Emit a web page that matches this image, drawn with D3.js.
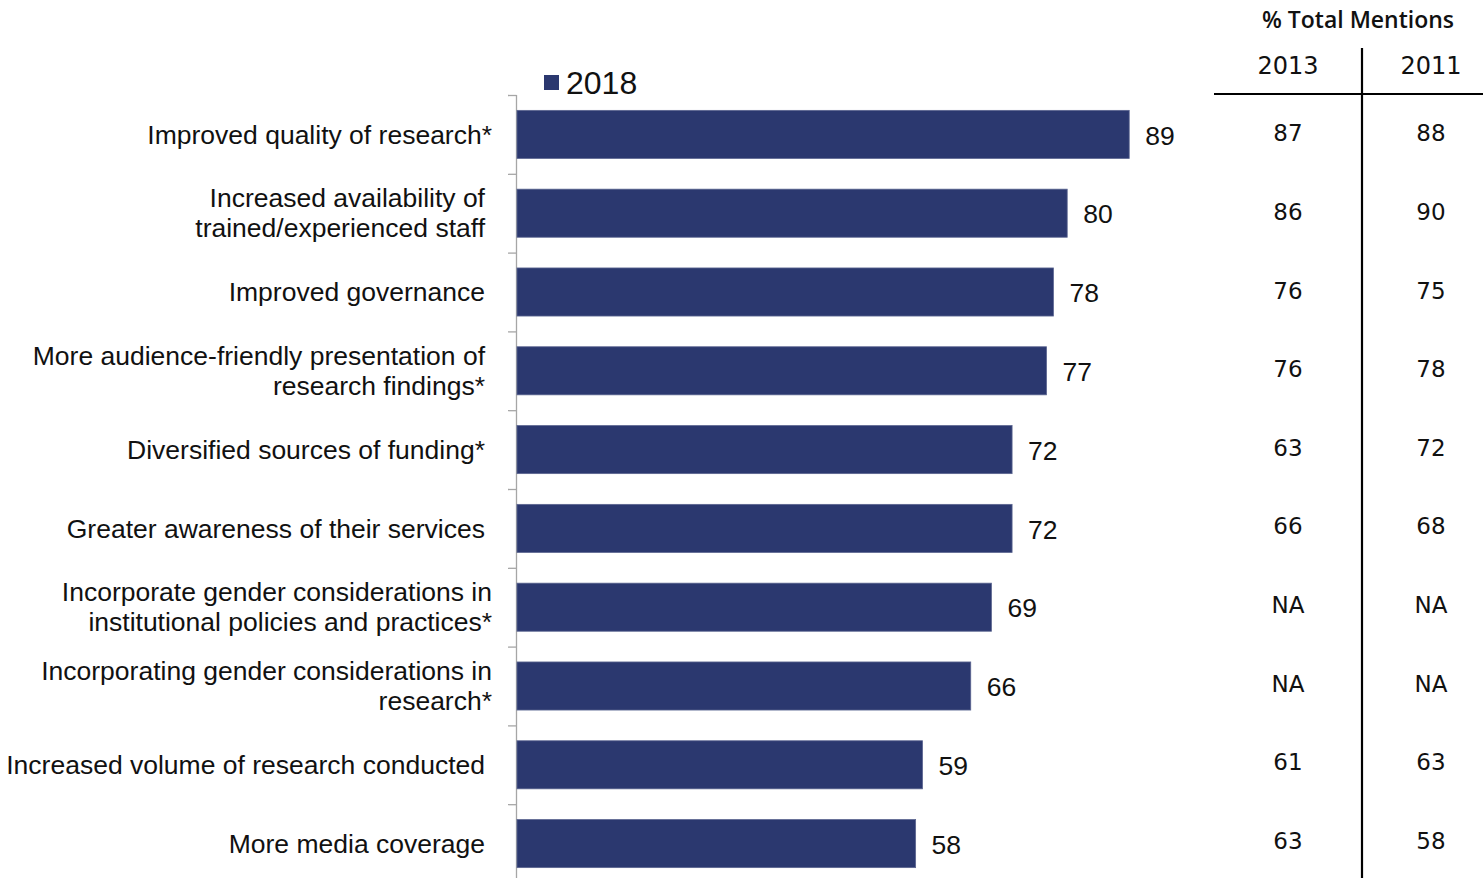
<!DOCTYPE html>
<html>
<head>
<meta charset="utf-8">
<script src="https://cdn.jsdelivr.net/npm/d3@7"></script>
<style>
  html, body { margin: 0; padding: 0; background: #fff; }
  svg { display: block; }
</style>
</head>
<body>
<svg id="chart" width="1483" height="878"></svg>
<script>
// Outcome categories (each entry is a list of label lines)
const categories = [
  ["Improved quality of research*"],
  ["Increased availability of", "trained/experienced staff"],
  ["Improved governance"],
  ["More audience-friendly presentation of", "research findings*"],
  ["Diversified sources of funding*"],
  ["Greater awareness of their services"],
  ["Incorporate gender considerations in", "institutional policies and practices*"],
  ["Incorporating gender considerations in", "research*"],
  ["Increased volume of research conducted"],
  ["More media coverage"]
];
// % total mentions, 2018 (bars)
const values2018 = [89, 80, 78, 77, 72, 72, 69, 66, 59, 58];
// Earlier survey rounds shown in the side table
const values2013 = ["87", "86", "76", "76", "63", "66", "NA", "NA", "61", "63"];
const values2011 = ["88", "90", "75", "78", "72", "68", "NA", "NA", "63", "58"];
const tableYears = ["2013", "2011"];
const seriesName = "2018";
const tableTitle = "% Total Mentions";

const svg = d3.select("#chart");
const barColor = "#2b386f";
const labelFont = "'Liberation Sans', Arial, sans-serif";
const tableFont = "'DejaVu Sans', sans-serif";

const x = d3.scaleLinear().domain([0, 100]).range([516, 1205]);
const y = d3.scaleBand()
  .domain(d3.range(categories.length))
  .range([95, 883])
  .paddingInner(0.39)
  .paddingOuter(0.195);

// Category axis: gray line with short ticks between bands
const axisG = svg.append("g");
axisG.append("line")
  .attr("x1", 516.5).attr("x2", 516.5)
  .attr("y1", 95).attr("y2", 878)
  .attr("stroke", "#a6a6a6").attr("stroke-width", 1.3);
const step = y.step();
axisG.selectAll("line.tick")
  .data(d3.range(categories.length + 1))
  .join("line")
  .attr("class", "tick")
  .attr("x1", 508).attr("x2", 516.5)
  .attr("y1", i => 95.5 + i * step)
  .attr("y2", i => 95.5 + i * step)
  .attr("stroke", "#a6a6a6").attr("stroke-width", 1.3);

// Bars
svg.append("g").selectAll("rect")
  .data(values2018)
  .join("rect")
  .attr("x", x(0) + 1)
  .attr("y", (d, i) => y(i))
  .attr("width", d => x(d) - x(0) - 1)
  .attr("height", y.bandwidth())
  .attr("fill", barColor)
  .attr("stroke", "#5b6590")
  .attr("stroke-width", 0.8);

// Value labels at bar ends
svg.append("g").selectAll("text")
  .data(values2018)
  .join("text")
  .attr("x", d => x(d) + 16)
  .attr("y", (d, i) => y(i) + y.bandwidth() / 2 + 1)
  .attr("dy", "0.35em")
  .attr("font-family", labelFont)
  .attr("font-size", 26.5)
  .attr("fill", "#111")
  .text(d => d);

// Category labels, right aligned
const wideRows = new Set([0, 6, 7]);
const lab = svg.append("g").selectAll("text")
  .data(categories)
  .join("text")
  .attr("text-anchor", "end")
  .attr("font-family", labelFont)
  .attr("font-size", 26.5)
  .attr("fill", "#111")
  .attr("transform", (d, i) => `translate(${wideRows.has(i) ? 492 : 485},${y(i) + y.bandwidth() / 2})`);
lab.selectAll("tspan")
  .data(d => d.map((t, k) => ({ t, k, n: d.length })))
  .join("tspan")
  .attr("x", 0)
  .attr("y", d => (d.k - (d.n - 1) / 2) * 30)
  .attr("dy", "0.35em")
  .text(d => d.t);

// Legend
svg.append("rect")
  .attr("x", 544).attr("y", 75).attr("width", 15).attr("height", 15)
  .attr("fill", barColor);
svg.append("text")
  .attr("x", 566).attr("y", 83)
  .attr("dy", "0.35em")
  .attr("font-family", labelFont)
  .attr("font-size", 32)
  .attr("fill", "#111")
  .text(seriesName);

// Side table
const colX = [1288, 1431];
const table = svg.append("g").attr("font-family", tableFont).attr("fill", "#111");
table.append("text")
  .attr("x", 1358).attr("y", 20).attr("dy", "0.35em")
  .attr("text-anchor", "middle")
  .attr("font-family", "'Open Sans', sans-serif")
  .attr("font-size", 23).attr("font-weight", 600)
  .text(tableTitle);
table.selectAll("text.year")
  .data(tableYears)
  .join("text")
  .attr("class", "year")
  .attr("x", (d, i) => colX[i]).attr("y", 66).attr("dy", "0.35em")
  .attr("text-anchor", "middle")
  .attr("font-size", 24)
  .text(d => d);
[values2013, values2011].forEach((col, c) => {
  table.append("g").selectAll("text")
    .data(col)
    .join("text")
    .attr("x", colX[c])
    .attr("y", (d, i) => y(i) + y.bandwidth() / 2 - 1 - i * 0.2)
    .attr("dy", "0.35em")
    .attr("text-anchor", "middle")
    .attr("font-size", 23)
    .text(d => d);
});
svg.append("line")
  .attr("x1", 1214).attr("x2", 1483)
  .attr("y1", 94).attr("y2", 94)
  .attr("stroke", "#000").attr("stroke-width", 2.2);
svg.append("line")
  .attr("x1", 1362).attr("x2", 1362)
  .attr("y1", 48).attr("y2", 878)
  .attr("stroke", "#000").attr("stroke-width", 2.2);
</script>
</body>
</html>
